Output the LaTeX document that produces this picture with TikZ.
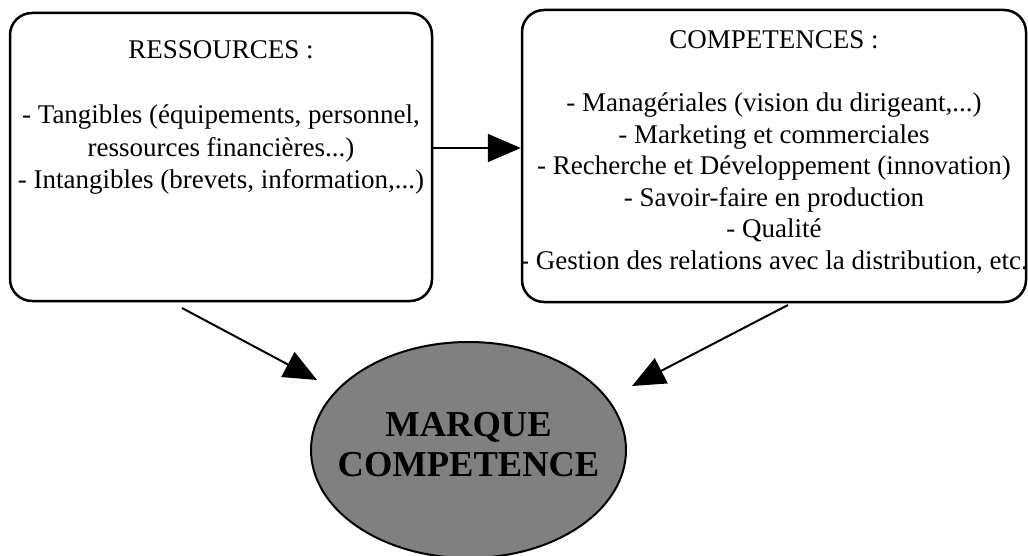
\documentclass[tikz,border=0pt]{standalone}
\usepackage{fontspec}
\setmainfont{Liberation Serif}
\usetikzlibrary{arrows.meta,shapes.geometric,positioning}

\begin{document}
\begin{tikzpicture}[x=1pt,y=-1pt,
    bloc/.style={draw,line width=2.5pt,rounded corners=22pt,inner sep=0},
    txt/.style={align=center,inner sep=0,anchor=north},
    fleche/.style={line width=2pt,-{Triangle[length=33pt,width=28pt]}}]
  \useasboundingbox (0,0) rectangle (1028,556);
  % les deux blocs
  \node[bloc,minimum width=422pt,minimum height=288pt] (res) at (221,157) {};
  \node[bloc,minimum width=504pt,minimum height=292pt] (comp) at (774,156) {};
  \node[txt,font=\fontsize{27}{32.5}\selectfont] (resText) at ([yshift=-29pt]res.north)
    {RESSOURCES :\\[32.5pt]
     - Tangibles (équipements, personnel,\\
     ressources financières...)\\
     - Intangibles (brevets, information,...)};
  \node[txt,font=\fontsize{27}{31.5}\selectfont] (compText) at ([yshift=-22pt]comp.north)
    {COMPETENCES :\\[31.5pt]
     - Managériales (vision du dirigeant,...)\\
     - Marketing et commerciales\\
     - Recherche et Développement (innovation)\\
     - Savoir-faire en production\\
     - Qualité\\
     - Gestion des relations avec la distribution, etc.};
  % la marque
  \node[draw,ellipse,fill=gray,line width=2pt,minimum width=315pt,minimum height=216pt,
    inner sep=0] (marque) at (468.5,450) {};
  \node[align=center,inner sep=0,text depth=12pt,font=\fontsize{36.5}{40}\selectfont\bfseries]
    (marqueText) at (marque.center) {MARQUE\\COMPETENCE};
  % fleches
  \coordinate (resOut) at (182,308);
  \coordinate (resIn) at (317,380);
  \coordinate (compOut) at (788,305);
  \coordinate (compIn) at (632,386);
  \draw[fleche] ([yshift=9pt]res.east) -- ([yshift=9pt]res.east -| comp.west);
  \draw[fleche] (resOut) -- (resIn);
  \draw[fleche] (compOut) -- (compIn);
\end{tikzpicture}
\end{document}
